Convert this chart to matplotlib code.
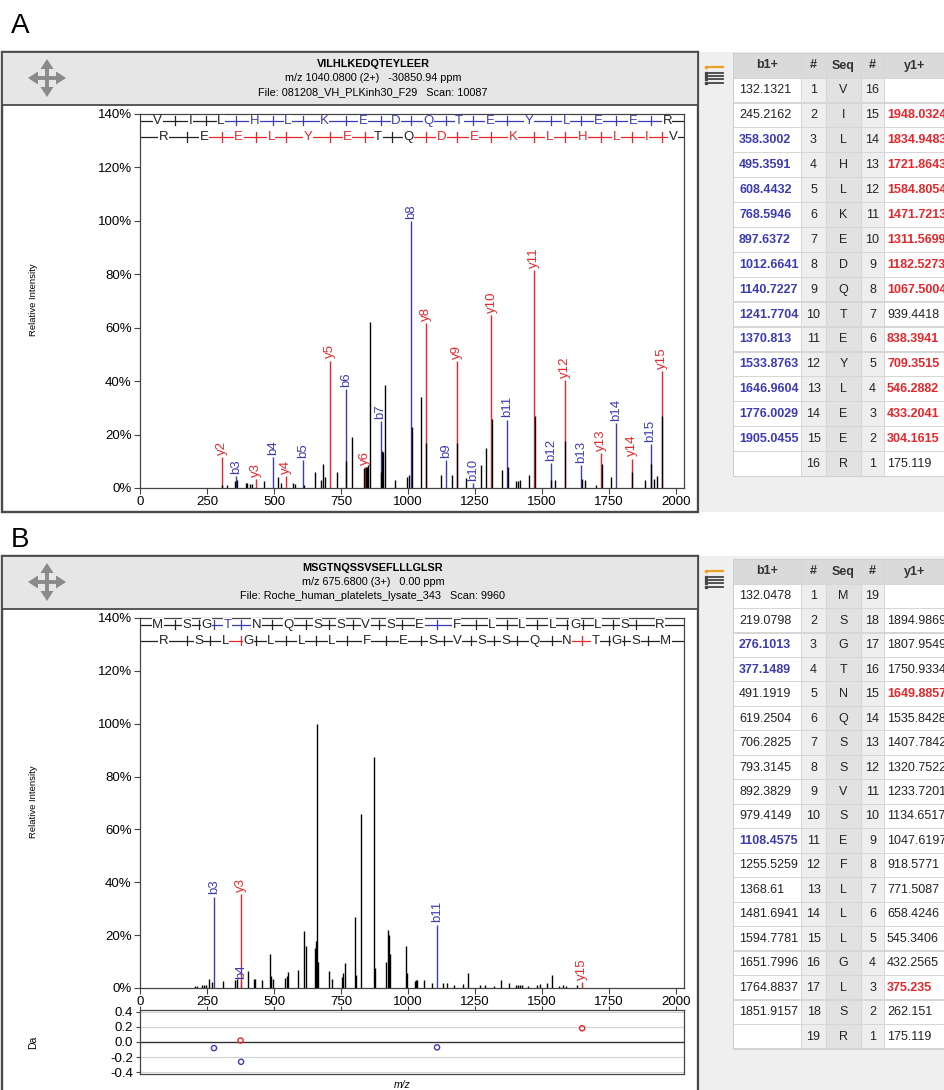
import numpy as np
import matplotlib.pyplot as plt
from matplotlib.patches import Rectangle, Polygon

plt.rcParams['font.family'] = ['Liberation Sans', 'DejaVu Sans']

W, H = 944, 1090
BLUE = '#3b3bb4'
RED = '#e8262a'
XMAX = 2030

# --- Panel A: VILHLKEDQTEYLEER ---
seq_a = 'VILHLKEDQTEYLEER'
b_a = [132.1321, 245.2162, 358.3002, 495.3591, 608.4432, 768.5946, 897.6372, 1012.6641,
       1140.7227, 1241.7704, 1370.813, 1533.8763, 1646.9604, 1776.0029, 1905.0455]
y_a = [175.119, 304.1615, 433.2041, 546.2882, 709.3515, 838.3941, 939.4418, 1067.5004,
       1182.5273, 1311.5699, 1471.7213, 1584.8054, 1721.8643, 1834.9483, 1948.0324]
hit_b_a = [3, 4, 5, 6, 7, 8, 9, 10, 11, 12, 13, 14, 15]
int_b_a = [4.4, 11.5, 10.3, 36.9, 25.0, 100.0, 10.6, 1.9, 25.6, 9.4, 8.5, 24.4, 16.3]
hit_y_a = [2, 3, 4, 5, 6, 8, 9, 10, 11, 12, 13, 14, 15]
int_y_a = [11.5, 3.5, 4.6, 47.7, 7.8, 61.9, 47.5, 64.8, 81.5, 40.5, 13.0, 11.0, 43.8]
mz_a = [306, 324, 353, 363, 394, 401, 410, 417, 464, 515, 526, 570, 579, 613, 653, 677,
        684, 691, 734, 769.6, 791, 837, 842, 846, 850, 857, 899, 904, 908, 916, 950, 997,
        1004, 1013.7, 1049, 1068.5, 1123, 1163, 1183.5, 1217, 1271, 1292, 1312.6, 1350,
        1371.8, 1402, 1409, 1417, 1451, 1472.7, 1534.9, 1548, 1585.8, 1648, 1660, 1703,
        1722.9, 1757, 1836, 1885, 1906, 1919, 1928, 1949]
int_a = [1.0, 1.0, 2.5, 3.0, 2.0, 2.0, 1.5, 1.5, 2.5, 4.0, 2.0, 2.0, 1.5, 1.0, 6.0, 3.0,
         9.0, 4.0, 6.0, 10.0, 19.0, 7.5, 8.0, 8.0, 8.5, 62.0, 6.0, 14.0, 13.5, 38.5, 3.0, 4.0,
         5.0, 23.0, 34.0, 17.0, 4.7, 5.0, 17.0, 3.7, 8.5, 15.0, 26.0, 6.6,
         8.0, 2.5, 2.5, 3.0, 5.0, 27.0, 3.0, 3.0, 17.5, 3.5, 3.0, 1.0,
         9.0, 4.0, 6.0, 3.0, 9.0, 3.5, 4.4, 27.0]

# --- Panel B: MSGTNQSSVSEFLLLGLSR ---
seq_b = 'MSGTNQSSVSEFLLLGLSR'
b_b = [132.0478, 219.0798, 276.1013, 377.1489, 491.1919, 619.2504, 706.2825, 793.3145,
       892.3829, 979.4149, 1108.4575, 1255.5259, 1368.61, 1481.6941, 1594.7781, 1651.7996,
       1764.8837, 1851.9157]
y_b = [175.119, 262.151, 375.235, 432.2565, 545.3406, 658.4246, 771.5087, 918.5771,
       1047.6197, 1134.6517, 1233.7201, 1320.7522, 1407.7842, 1535.8428, 1649.8857,
       1750.9334, 1807.9549, 1894.9869]
hit_b_b = [3, 4, 11]
int_b_b = [34.6, 2.5, 24.0]
hit_y_b = [3, 15]
int_y_b = [35.7, 2.3]
err_b_b = [-0.08, -0.26, -0.07]
err_y_b = [0.02, 0.18]
mz_b = [206, 213, 233, 239, 246, 256, 270, 310, 355, 361, 403, 425, 429, 455, 485, 489,
        497, 541, 548, 554, 591, 611, 618, 654, 658, 662, 666, 704, 718, 754, 759, 766,
        801, 807, 825, 875, 878, 917, 925, 929, 933, 994, 998, 1026, 1030, 1034, 1059,
        1091, 1131, 1147, 1172, 1205, 1223, 1267, 1287, 1322, 1346, 1376, 1402, 1411,
        1419, 1426, 1449, 1482, 1491, 1519, 1539, 1562, 1579, 1591, 1631]
int_b = [0.8, 0.8, 1.0, 1.3, 1.3, 3.3, 2.3, 2.5, 3.0, 3.5, 6.3, 3.5, 3.5, 3.0, 13.0, 4.4,
         3.5, 3.8, 4.4, 6.0, 7.0, 21.7, 16.0, 15.0, 17.9, 100.0, 10.0, 6.5, 3.3, 4.0, 5.5, 9.3,
         27.0, 4.8, 65.7, 87.3, 7.6, 10.0, 22.0, 20.0, 13.0, 15.9, 5.5, 2.5, 3.0, 3.0, 3.0,
         2.0, 2.0, 2.0, 1.0, 1.6, 5.5, 1.3, 1.0, 0.6, 2.9, 1.9, 1.0, 1.3,
         1.0, 1.0, 0.6, 1.0, 1.6, 1.8, 5.0, 0.8, 1.0, 0.8, 1.0]


def px_axes(fig, x0, y0, x1, y1):
    return fig.add_axes([x0 / W, 1 - y1 / H, (x1 - x0) / W, (y1 - y0) / H])


def style_spectrum(ax):
    ax.set_xlim(0, XMAX)
    ax.set_ylim(0, 140)
    ax.set_xticks(np.arange(0, 2001, 250))
    ax.set_yticks(np.arange(0, 141, 20))
    ax.set_yticklabels([f'{v}%' for v in range(0, 141, 20)])
    ax.tick_params(labelsize=9.5, length=4, width=0.8, color='#444', pad=2)
    for s in ax.spines.values():
        s.set_color('#444')
        s.set_linewidth(0.9)


def seq_row(ax, yrow, letters, cuts, hits, color):
    n = len(letters)
    edges = [0] + list(cuts) + [XMAX]
    centers = [(edges[k] + edges[k + 1]) / 2 for k in range(n)]
    ax.plot([0, centers[0]], [yrow, yrow], color='#222', lw=0.9)
    ax.plot([centers[-1], XMAX], [yrow, yrow], color='#222', lw=0.9)
    for k, c in enumerate(cuts, start=1):
        col = color if k in hits else '#222'
        ax.plot([centers[k - 1], centers[k]], [yrow, yrow], color=col, lw=0.9)
        ax.plot([c, c], [yrow - 1.7, yrow + 1.7], color=col, lw=0.9)
    for k, ch in enumerate(letters, start=1):
        col = color if (k - 1 in hits and k in hits) else '#222'
        ax.text(centers[k - 1], yrow, ch, color=col, fontsize=9.5, ha='center',
                va='center', zorder=5,
                bbox=dict(fc='white', ec='none', pad=0.3))


def spectrum(ax, mz, inten, b, y, hb, ib, hy, iy, seq):
    style_spectrum(ax)
    for k, h in zip(hb, ib):
        ax.vlines(b[k - 1], 0, h, color=BLUE, lw=1.0)
        ax.text(b[k - 1], h + 0.8, f'b{k}', color=BLUE, fontsize=9.5, rotation=90,
                ha='center', va='bottom')
    for k, h in zip(hy, iy):
        ax.vlines(y[k - 1], 0, h, color=RED, lw=1.0)
        ax.text(y[k - 1], h + 0.8, f'y{k}', color=RED, fontsize=9.5, rotation=90,
                ha='center', va='bottom')
    ax.vlines(mz, 0, inten, color='black', lw=1.0)
    seq_row(ax, 137.4, seq, b, hb, BLUE)
    seq_row(ax, 131.4, seq[::-1], y, hy, RED)


def move_icon(bg, cx, cy):
    g = '#8a8a8a'
    bg.plot([cx - 11, cx + 11], [cy, cy], color=g, lw=2.8)
    bg.plot([cx, cx], [cy - 11, cy + 11], color=g, lw=2.8)
    for dx, dy in [(1, 0), (-1, 0), (0, 1), (0, -1)]:
        tip = (cx + 19 * dx, cy + 19 * dy)
        bx, by = cx + 9 * dx, cy + 9 * dy
        pts = [tip, (bx + 6.5 * dy, by + 6.5 * dx), (bx - 6.5 * dy, by - 6.5 * dx)]
        bg.add_patch(Polygon(pts, closed=True, fc=g, ec='none'))


def list_icon(bg, x0, y0):
    bg.plot([x0 + 3, x0 + 17], [y0, y0], color='#f0a020', lw=1.6)
    bg.plot([x0], [y0], 's', color='#f0a020', ms=1.6)
    for i in range(1, 5):
        yy = y0 + 2.5 + 3.3 * i
        bg.plot([x0 + 3, x0 + 17], [yy, yy], color='#444', lw=1.3)
        bg.plot([x0], [yy], 's', color='#444', ms=1.4)


def panel_frame(bg, top, bottom, l1, l2, l3):
    bg.add_patch(Rectangle((700, top), 244, bottom - top, fc='#efefef', ec='none'))
    bg.add_patch(Rectangle((2, top), 696, bottom - top, fc='white', ec='#4a4a4a', lw=1.7))
    bg.add_patch(Rectangle((2, top), 696, 53, fc='#e6e6e6', ec='#4a4a4a', lw=1.3))
    bg.text(373, top + 12, l1, fontsize=7.8, fontweight='bold', ha='center', va='center')
    bg.text(373, top + 26, l2, fontsize=7.8, ha='center', va='center')
    bg.text(373, top + 40, l3, fontsize=7.8, ha='center', va='center')
    move_icon(bg, 47, top + 26)
    list_icon(bg, 706, top + 15)


def table(bg, top, seq, b, y, hb, hy, row_h):
    xs = [733, 801, 826, 861, 884, 990]
    n = len(seq)
    bg.add_patch(Rectangle((733, top), 211, 25 + n * row_h, fc='#d6d6d6', ec='#d0d0d0', lw=0.8))
    for j, lab in enumerate(['b1+', '#', 'Seq', '#', 'y1+']):
        bg.add_patch(Rectangle((xs[j] + 0.5, top + 0.5), xs[j + 1] - xs[j] - 1, 24,
                               fc='#dadada', ec='none'))
        bg.text((xs[j] + xs[j + 1]) / 2 if j < 4 else 915, top + 12.5, lab, fontsize=9,
                fontweight='bold', color='#333', ha='center', va='center')
    fills = ['white', '#eeeeee', '#e2e2e2', '#eeeeee', 'white']
    for r in range(n):
        y0 = top + 25 + r * row_h
        k = r + 1
        ky = n - r
        for j in range(5):
            bg.add_patch(Rectangle((xs[j] + 0.5, y0 + 0.6), xs[j + 1] - xs[j] - 1, row_h - 1.2,
                                   fc=fills[j], ec='none'))
        yc = y0 + row_h / 2
        if k < n:
            hit = k in hb
            bg.text(739, yc, str(b[k - 1]), fontsize=9, ha='left', va='center',
                    color=BLUE if hit else '#222', fontweight='bold' if hit else 'normal')
        bg.text(813.5, yc, str(k), fontsize=9, ha='center', va='center', color='#222')
        bg.text(843.5, yc, seq[r], fontsize=9, ha='center', va='center', color='#222')
        bg.text(872.5, yc, str(ky), fontsize=9, ha='center', va='center', color='#222')
        if ky < n:
            hit = ky in hy
            bg.text(887, yc, str(y[ky - 1]), fontsize=9, ha='left', va='center',
                    color=RED if hit else '#222', fontweight='bold' if hit else 'normal')


fig = plt.figure(figsize=(W / 100, H / 100), dpi=100)
bg = fig.add_axes([0, 0, 1, 1], zorder=0)
bg.set_xlim(0, W)
bg.set_ylim(H, 0)
bg.axis('off')

bg.text(11, 26, 'A', fontsize=20, ha='left', va='center')
bg.text(11, 540, 'B', fontsize=20, ha='left', va='center')

panel_frame(bg, 52, 512, 'VILHLKEDQTEYLEER', 'm/z 1040.0800 (2+)   -30850.94 ppm',
            'File: 081208_VH_PLKinh30_F29   Scan: 10087')
panel_frame(bg, 556, 1100, 'MSGTNQSSVSEFLLLGLSR', 'm/z 675.6800 (3+)   0.00 ppm',
            'File: Roche_human_platelets_lysate_343   Scan: 9960')

table(bg, 53, seq_a, b_a, y_a, hit_b_a, hit_y_a, 24.9)
table(bg, 559, seq_b, b_b, y_b, hit_b_b, hit_y_b, 24.47)

bg.text(33, 300, 'Relative Intensity', fontsize=6.8, rotation=90, ha='center', va='center')
bg.text(33, 802, 'Relative Intensity', fontsize=6.8, rotation=90, ha='center', va='center')
bg.text(33, 1042, 'Da', fontsize=7.5, rotation=90, ha='center', va='center')
bg.text(402, 1085, 'm/z', fontsize=7.5, style='italic', ha='center', va='center')

ax_a = px_axes(fig, 140, 114, 684, 488)
spectrum(ax_a, mz_a, int_a, b_a, y_a, hit_b_a, int_b_a, hit_y_a, int_y_a, seq_a)

ax_b = px_axes(fig, 140, 618, 684, 988)
spectrum(ax_b, mz_b, int_b, b_b, y_b, hit_b_b, int_b_b, hit_y_b, int_y_b, seq_b)

ax_e = px_axes(fig, 140, 1010, 684, 1074)
ax_e.set_xlim(0, XMAX)
ax_e.set_ylim(-0.42, 0.42)
ax_e.set_yticks([0.4, 0.2, 0.0, -0.2, -0.4])
ax_e.set_yticklabels(['0.4', '0.2', '0.0', '-0.2', '-0.4'])
ax_e.set_xticks(np.arange(0, 2001, 250))
ax_e.tick_params(axis='x', top=True, bottom=False, labelbottom=False, direction='out',
                 length=3, color='#444')
ax_e.tick_params(axis='y', labelsize=9.5, length=3, color='#444', pad=2)
for v in [0.2, -0.2, 0.4, -0.4]:
    ax_e.axhline(v, color='#d4d4d4', lw=0.8)
ax_e.axhline(0, color='#333', lw=1.0)
ax_e.scatter([b_b[k - 1] for k in hit_b_b], err_b_b, s=14, facecolors='none',
             edgecolors=BLUE, lw=1.0, zorder=3)
ax_e.scatter([y_b[k - 1] for k in hit_y_b], err_y_b, s=14, facecolors='none',
             edgecolors=RED, lw=1.0, zorder=3)
for s in ax_e.spines.values():
    s.set_color('#444')
    s.set_linewidth(0.9)

fig.savefig('out.png', dpi=100)
